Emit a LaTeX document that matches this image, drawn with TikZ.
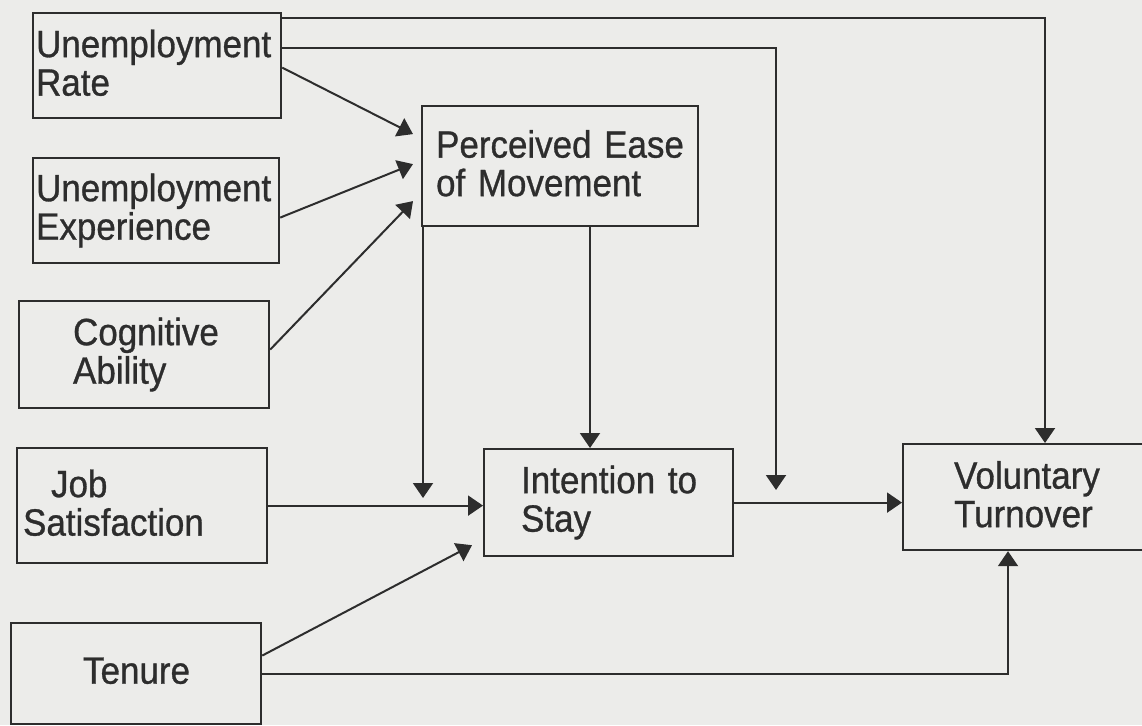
\documentclass[tikz,border=0pt]{standalone}
\usepackage{fontspec}
\setmainfont{Liberation Sans}[FakeStretch=0.92,FakeBold=0.8]
\usetikzlibrary{arrows.meta}
\definecolor{paper}{RGB}{236,236,234}
\definecolor{ink}{RGB}{45,45,45}
\newcommand\boxfont{\fontsize{38}{38.5}\selectfont}
\newcommand\ind[1]{\hspace*{#1pt}}
% extra depth on the last line raises the text block a little
\newcommand\lift{\rule[-6pt]{0pt}{6pt}}
\tikzset{
  box/.style={draw=ink, line width=2.2pt, inner sep=0pt, align=left,
    anchor=north west, font=\boxfont, text=ink},
  arr/.style={draw=ink, line width=2pt, -{Triangle[width=20pt,length=15pt]}},
}
\begin{document}
\begin{tikzpicture}[x=1pt,y=-1pt]
\clip (0,0) rectangle (1142,725);
\fill[paper] (0,0) rectangle (1142,725);

% antecedents
\node[box, text width=248pt, minimum height=105pt] (ur) at (32,12)
  {\ind{3}Unemployment\\\ind{3}Rate\lift};
\node[box, text width=246pt, minimum height=105pt] (ue) at (32,157)
  {\ind{3}Unemployment\\\ind{3}Experience\lift};
\node[box, text width=250pt, minimum height=107pt] (ca) at (18,300)
  {\ind{54}Cognitive\\\ind{54}Ability};
\node[box, text width=250pt, minimum height=115pt] (js) at (16,447)
  {\ind{34}Job\\\ind{6}Satisfaction\lift};
\node[box, text width=250pt, minimum height=101pt] (te) at (10,622)
  {\ind{72}Tenure\lift};

% mediators and outcome
\node[box, text width=276pt, minimum height=120pt] (pe) at (421,105)
  {\ind{14}Perceived Ease\\\ind{14}of Movement\lift};
\node[box, text width=249pt, minimum height=107pt] (is) at (483,448)
  {\ind{37}Intention to\\\ind{37}Stay};
\node[box, text width=260pt, minimum height=106pt] (vt) at (902,443)
  {\ind{51}Voluntary\\\ind{51}Turnover\lift};

% moderator targets on the paths
\coordinate (m1) at (423,498);
\coordinate (m2) at (776,490);
\coordinate (pe-out) at ([xshift=169pt]pe.south west);

% paths
\draw[arr] ([yshift=-6pt]ur.north east) -| ([xshift=143pt]vt.north west);
\draw[arr] ([yshift=-36pt]ur.north east) -| (m2);
\draw[arr] ([yshift=-2pt]ur.east) -- ([xshift=-8pt,yshift=32pt]pe.west);
\draw[arr] ([yshift=-7pt]ue.east) -- ([xshift=-8pt,yshift=2pt]pe.west);
\draw[arr] ([yshift=5pt]ca.east) -- ([xshift=-8pt,yshift=-35pt]pe.west);
\draw[arr] ([xshift=2pt]pe.south west) -- (m1);
\draw[arr] (pe-out) -- (pe-out |- is.north);
\draw[arr] (js.east) -- (js.east -| is.west);
\draw[arr] ([yshift=18pt]te.east) -- ([xshift=-11pt,yshift=12pt]is.south west);
\draw[arr] (te.east) -| ([xshift=106pt]vt.south west);
\draw[arr] (is.east) -- (is.east -| vt.west);
\end{tikzpicture}
\end{document}
